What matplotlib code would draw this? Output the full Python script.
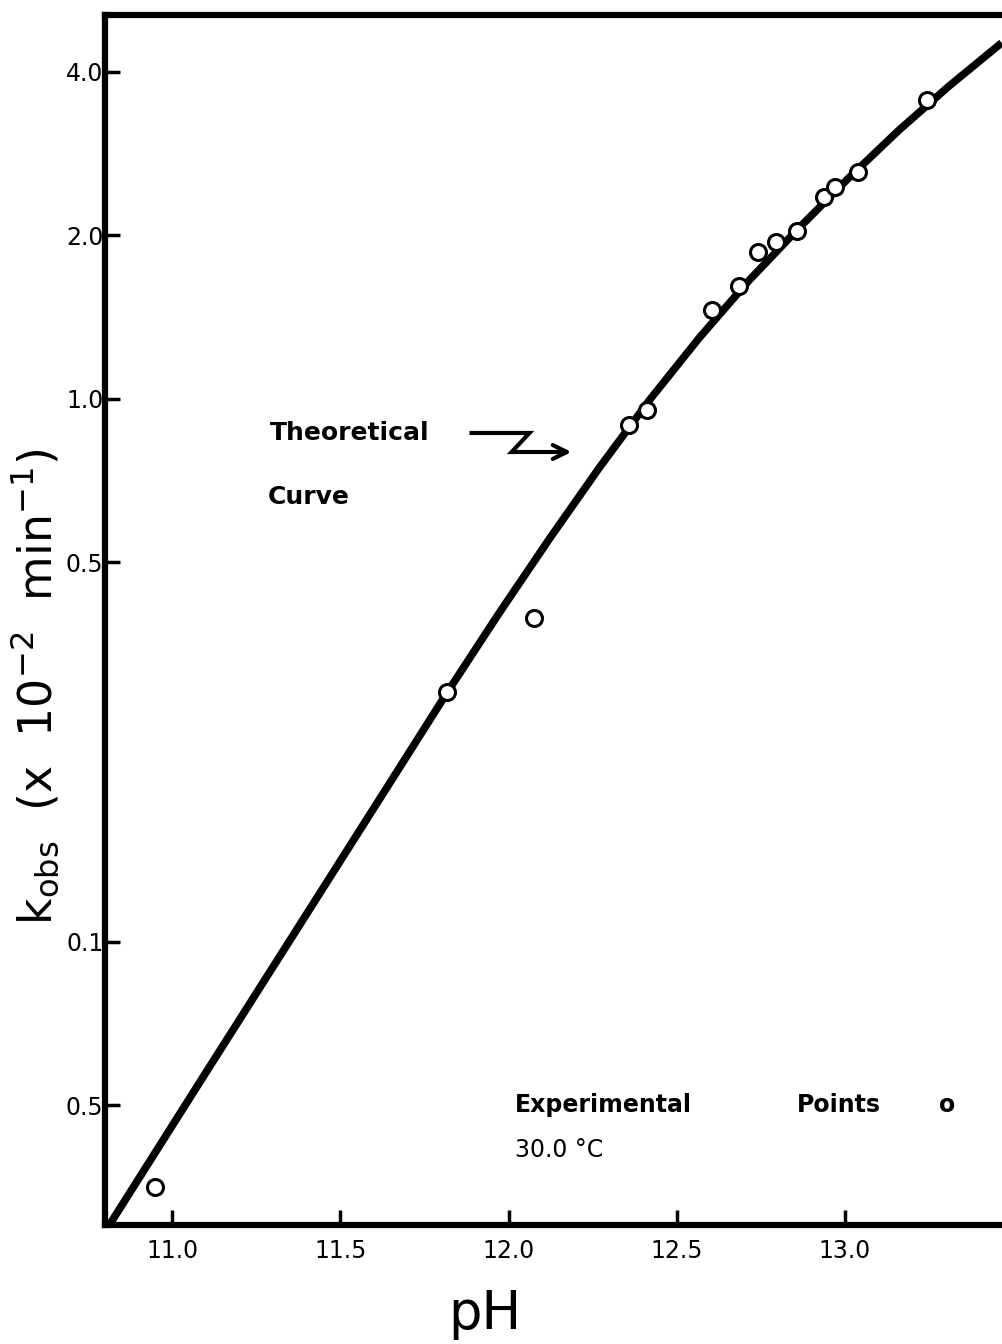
import numpy as np
import matplotlib
matplotlib.use('Agg')
import matplotlib.pyplot as plt
from matplotlib.ticker import NullLocator

# 실험값 (pH, k_obs x 10^-2 min^-1) - 그림에서 읽은 값
ph_exp = [10.95, 11.816, 12.077, 12.359, 12.412, 12.605, 12.685, 12.742,
          12.795, 12.858, 12.938, 12.970, 13.039, 13.243]
k_exp = [0.0353, 0.288, 0.394, 0.895, 0.953, 1.46, 1.61, 1.86,
         1.94, 2.04, 2.35, 2.45, 2.62, 3.55]

# 이론 곡선 - 곡선 위에서 읽은 점
ph_theo = [10.816, 11.083, 11.380, 11.677, 11.816, 11.973, 12.122, 12.270, 12.418,
           12.567, 12.715, 12.864, 13.012, 13.160, 13.309, 13.466]
k_theo = [0.0303, 0.0553, 0.1077, 0.2099, 0.287, 0.404, 0.553, 0.747, 0.993,
          1.295, 1.652, 2.065, 2.553, 3.121, 3.763, 4.523]

# 축 눈금
x_ticks = [11.0, 11.5, 12.0, 12.5, 13.0]
x_tick_labels = ['11.0', '11.5', '12.0', '12.5', '13.0']
y_ticks = [0.05, 0.1, 0.5, 1.0, 2.0, 4.0]
y_tick_labels = ['0.5', '0.1', '0.5', '1.0', '2.0', '4.0']

fig = plt.figure(figsize=(10.03, 13.44), dpi=100)
ax = fig.add_axes([105/1003, 1 - 1225/1344, 1 - 105/1003, (1225 - 15)/1344])

ax.set_yscale('log')
ax.plot(ph_theo, k_theo, color='black', lw=5.5, solid_capstyle='butt',
        solid_joinstyle='round', zorder=2)
ax.plot(ph_exp, k_exp, linestyle='none', marker='o', markersize=11.5,
        markerfacecolor='white', markeredgecolor='black', markeredgewidth=2.2, zorder=3)

ax.set_xlim(10.80, 13.47)
ax.set_ylim(0.0301, 5.09)

ax.set_xticks(x_ticks)
ax.set_xticklabels(x_tick_labels)
ax.set_yticks(y_ticks)
ax.set_yticklabels(y_tick_labels)
ax.yaxis.set_minor_locator(NullLocator())
ax.xaxis.set_minor_locator(NullLocator())

ax.tick_params(axis='both', direction='in', length=11, width=2.5, labelsize=17, colors='black')
ax.tick_params(axis='y', pad=1)
ax.tick_params(axis='x', pad=10)

for side in ['left', 'bottom', 'top']:
    ax.spines[side].set_linewidth(4.5)
ax.spines['right'].set_visible(False)

ax.set_xlabel('pH', fontsize=38)
ax.xaxis.set_label_coords(0.423, -0.052)
ax.set_ylabel(r'k$_{\mathregular{obs}}$  (x  10$^{-2}$  min$^{-1}$)', fontsize=33)
ax.yaxis.set_label_coords(-0.048, 0.445)

# 주석
ax.text(11.291, 0.865, 'Theoretical', fontsize=18, fontweight='bold', va='center', ha='left')
ax.text(11.285, 0.659, 'Curve', fontsize=18, fontweight='bold', va='center', ha='left')
ax.plot([11.890, 12.062, 12.009, 12.17], [0.865, 0.865, 0.798, 0.798], color='black', lw=3,
        solid_joinstyle='miter')
ax.annotate('', xy=(12.195, 0.798), xytext=(12.15, 0.798),
            arrowprops=dict(arrowstyle='->', lw=3, color='black', mutation_scale=25))

ax.text(12.018, 0.05, 'Experimental', fontsize=17, fontweight='bold', va='center', ha='left')
ax.text(12.858, 0.05, 'Points', fontsize=17, fontweight='bold', va='center', ha='left')
ax.text(13.279, 0.05, 'o', fontsize=17, fontweight='bold', va='center', ha='left')
ax.text(12.018, 0.0413, '30.0 °C', fontsize=17, va='center', ha='left')

fig.savefig('out.png', dpi=100)
